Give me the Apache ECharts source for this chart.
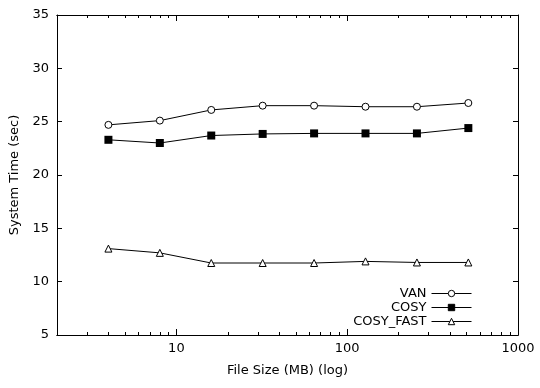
<!DOCTYPE html>
<html>
<head>
<meta charset="utf-8">
<script src="https://cdn.jsdelivr.net/npm/echarts@6/dist/echarts.min.js"></script>
<style>
html,body{margin:0;padding:0;background:#fff;}
#chart{width:540px;height:388px;}
</style>
</head>
<body>
<div id="chart"></div>
<script>
// ---- data ----
const fileSizes = [4, 8, 16, 32, 64, 128, 256, 512];
const van = [24.7, 25.1, 26.1, 26.5, 26.5, 26.4, 26.4, 26.75];
const cosy = [23.3, 23.0, 23.7, 23.85, 23.9, 23.9, 23.9, 24.4];
const cosyFast = [13.1, 12.7, 11.75, 11.75, 11.75, 11.9, 11.8, 11.8];
const seriesNames = ['VAN', 'COSY', 'COSY_FAST'];
const xMajorTicks = [10, 100, 1000];
const xMinorTicks = [3,4,5,6,7,8,9,20,30,40,50,60,70,80,90,200,300,400,500,600,700,800,900];
const yTickLabels = [5, 10, 15, 20, 25, 30, 35];

const FONT = 'DejaVu Sans';
const FS = 13;

function pairs(ys) { return fileSizes.map((x, i) => [x, ys[i]]); }

const baseLog = {type: 'log', logBase: 10, min: 2, max: 1000, splitLine: {show: false},
  axisLine: {show: true, onZero: false, lineStyle: {color: '#000', width: 1}}};

const chart = echarts.init(document.getElementById('chart'), null, {renderer: 'canvas'});
chart.setOption({
  animation: false,
  backgroundColor: '#fff',
  textStyle: {fontFamily: FONT},
  grid: {left: 55, right: 22, top: 15, bottom: 53, containLabel: false},
  xAxis: [
    Object.assign({}, baseLog, {
      position: 'bottom',
      name: 'File Size (MB) (log)', nameLocation: 'middle', nameGap: 29,
      nameTextStyle: {color: '#000', fontFamily: FONT, fontSize: FS},
      axisTick: {show: true, inside: true, length: 6, lineStyle: {color: '#000'}, customValues: xMajorTicks},
      axisLabel: {color: '#000', fontFamily: FONT, fontSize: FS, margin: 7, customValues: xMajorTicks,
        formatter: v => (xMajorTicks.indexOf(Math.round(v)) >= 0 ? String(Math.round(v)) : '')}
    }),
    Object.assign({}, baseLog, {
      position: 'bottom',
      axisTick: {show: true, inside: true, length: 3, lineStyle: {color: '#000'}, customValues: xMinorTicks},
      axisLabel: {show: false}
    }),
    Object.assign({}, baseLog, {
      position: 'top',
      axisTick: {show: true, inside: true, length: 6, lineStyle: {color: '#000'}, customValues: xMajorTicks},
      axisLabel: {show: false}
    }),
    Object.assign({}, baseLog, {
      position: 'top',
      axisTick: {show: true, inside: true, length: 3, lineStyle: {color: '#000'}, customValues: xMinorTicks},
      axisLabel: {show: false}
    })
  ],
  yAxis: [
    {
      type: 'value', position: 'left', min: 5, max: 35, interval: 5,
      name: 'System Time (sec)', nameLocation: 'middle', nameGap: 36,
      nameTextStyle: {color: '#000', fontFamily: FONT, fontSize: FS},
      splitLine: {show: false},
      axisLine: {show: true, onZero: false, lineStyle: {color: '#000', width: 1}},
      axisTick: {show: true, inside: true, length: 5, lineStyle: {color: '#000'}},
      axisLabel: {color: '#000', fontFamily: FONT, fontSize: FS, margin: 8,
        formatter: v => (yTickLabels.indexOf(v) >= 0 ? String(v) : '')}
    },
    {
      type: 'value', position: 'right', min: 5, max: 35, interval: 5,
      splitLine: {show: false},
      axisLine: {show: true, onZero: false, lineStyle: {color: '#000', width: 1}},
      axisTick: {show: true, inside: true, length: 5, lineStyle: {color: '#000'}},
      axisLabel: {show: false}
    }
  ],
  legend: [0, 1, 2].map(i => ({
    data: [seriesNames[i]],
    orient: 'vertical', align: 'right',
    right: 68, top: 287 + i * 14,
    padding: 0, itemWidth: 40, itemHeight: 8,
    lineStyle: {width: 1, color: '#000'},
    itemStyle: {borderWidth: 1, borderColor: '#000'},
    textStyle: {color: '#000', fontFamily: FONT, fontSize: FS},
    selectedMode: false
  })),
  series: [
    {
      name: seriesNames[0], type: 'line', data: pairs(van),
      symbol: 'circle', symbolSize: 7,
      itemStyle: {color: '#fff', borderColor: '#000', borderWidth: 1},
      lineStyle: {color: '#000', width: 1}
    },
    {
      name: seriesNames[1], type: 'line', data: pairs(cosy),
      symbol: 'rect', symbolSize: 8,
      itemStyle: {color: '#000', borderColor: '#000', borderWidth: 0},
      lineStyle: {color: '#000', width: 1}
    },
    {
      name: seriesNames[2], type: 'line', data: pairs(cosyFast),
      symbol: 'triangle', symbolSize: 7,
      itemStyle: {color: '#fff', borderColor: '#000', borderWidth: 1},
      lineStyle: {color: '#000', width: 1}
    }
  ]
});
</script>
</body>
</html>
